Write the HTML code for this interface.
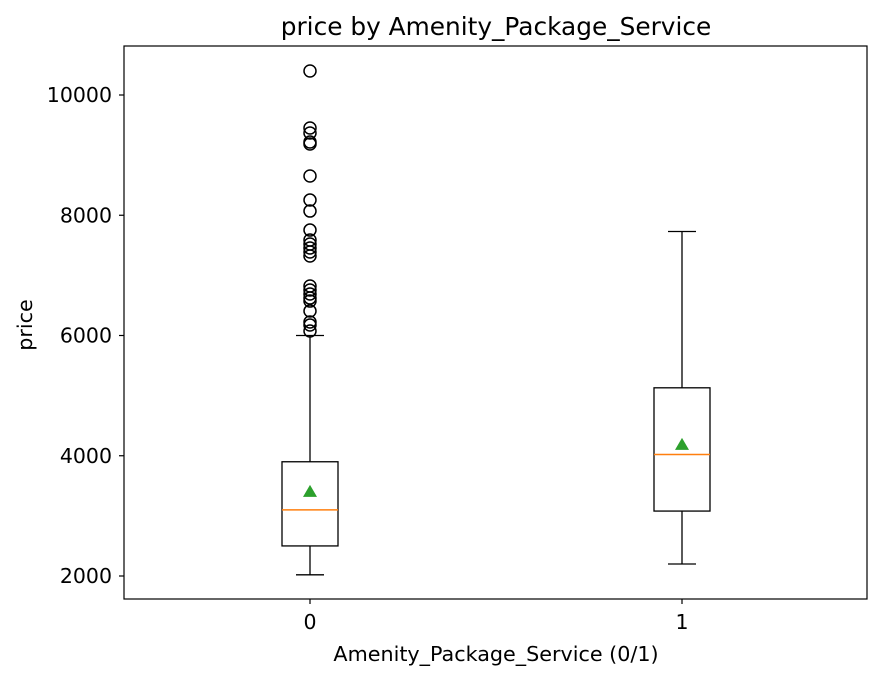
<!DOCTYPE html>
<html><head><meta charset="utf-8"><style>body{margin:0;background:#fff}svg{display:block}text{font-family:"DejaVu Sans","Liberation Sans",sans-serif;fill:#000}</style></head>
<body>
<svg id="chart" width="883" height="679"></svg>
<script>
const categories=["0","1"];
const q1=[2500,3080];
const q3=[3900,5130];
const medians=[3100,4020];
const means=[3400,4180];
const whiskLo=[2020,2200];
const whiskHi=[6000,7730];
const outliers0=[10399,9451,9368,9218,9185,8653,8253,8070,7754,7588,7522,7455,7389,7322,6823,6757,6690,6623,6573,6407,6224,6174,6075];
const outliers=[outliers0,[]];
const yTicks=[2000,4000,6000,8000,10000];
const L=124,R=867,T=46,B=599;
const y=v=>95+(10000-v)*481/8000;
const x=i=>310+i*372;
const svg=document.getElementById('chart');
const NS='http://www.w3.org/2000/svg';
function mk(t,a,p){const e=document.createElementNS(NS,t);for(const k in a)e.setAttribute(k,a[k]);(p||svg).appendChild(e);return e;}
mk('rect',{x:0,y:0,width:883,height:679,fill:'#fff'});
yTicks.forEach(v=>{const g=mk('g',{});


mk('line',{x1:L-5,x2:L,y1:y(v),y2:y(v),stroke:'#000','stroke-width':1.2},g);
const t=mk('text',{x:L-12,y:y(v)+7,'text-anchor':'end','font-size':20.5},g);t.textContent=v;});
categories.forEach((c,i)=>{const g=mk('g',{});


const cx=x(i),hw=28,cw=14;
mk('line',{x1:cx,x2:cx,y1:y(q1[i]),y2:y(whiskLo[i]),stroke:'#000','stroke-width':1.3},g);
mk('line',{x1:cx,x2:cx,y1:y(q3[i]),y2:y(whiskHi[i]),stroke:'#000','stroke-width':1.3},g);
mk('line',{x1:cx-cw,x2:cx+cw,y1:y(whiskLo[i]),y2:y(whiskLo[i]),stroke:'#000','stroke-width':1.3},g);
mk('line',{x1:cx-cw,x2:cx+cw,y1:y(whiskHi[i]),y2:y(whiskHi[i]),stroke:'#000','stroke-width':1.3},g);
mk('rect',{x:cx-hw,y:y(q3[i]),width:2*hw,height:y(q1[i])-y(q3[i]),fill:'none',stroke:'#000','stroke-width':1.3},g);
mk('line',{x1:cx-hw,x2:cx+hw,y1:y(medians[i]),y2:y(medians[i]),stroke:'#ff7f0e','stroke-width':1.5},g);
const my=y(means[i]);
mk('polygon',{points:`${cx},${my-7} ${cx-7},${my+5} ${cx+7},${my+5}`,fill:'#2ca02c'},g);
outliers[i].forEach(v=>{const o=mk('circle',{cx:cx,cy:y(v),r:6,fill:'none',stroke:'#000','stroke-width':1.5},g);

});
mk('line',{x1:cx,x2:cx,y1:B,y2:B+5,stroke:'#000','stroke-width':1.2},g);
const t=mk('text',{x:cx,y:B+30,'text-anchor':'middle','font-size':20.5},g);t.textContent=c;});
mk('rect',{x:L,y:T,width:R-L,height:B-T,fill:'none',stroke:'#000','stroke-width':1.2});
let t=mk('text',{x:496,y:35,'text-anchor':'middle','font-size':24.8});t.textContent='price by Amenity_Package_Service';

t=mk('text',{x:496,y:661,'text-anchor':'middle','font-size':20.7});t.textContent='Amenity_Package_Service (0/1)';

t=mk('text',{x:32,y:325,'text-anchor':'middle','font-size':20.7,transform:'rotate(-90 32 325)'});t.textContent='price';

</script>
</body></html>
